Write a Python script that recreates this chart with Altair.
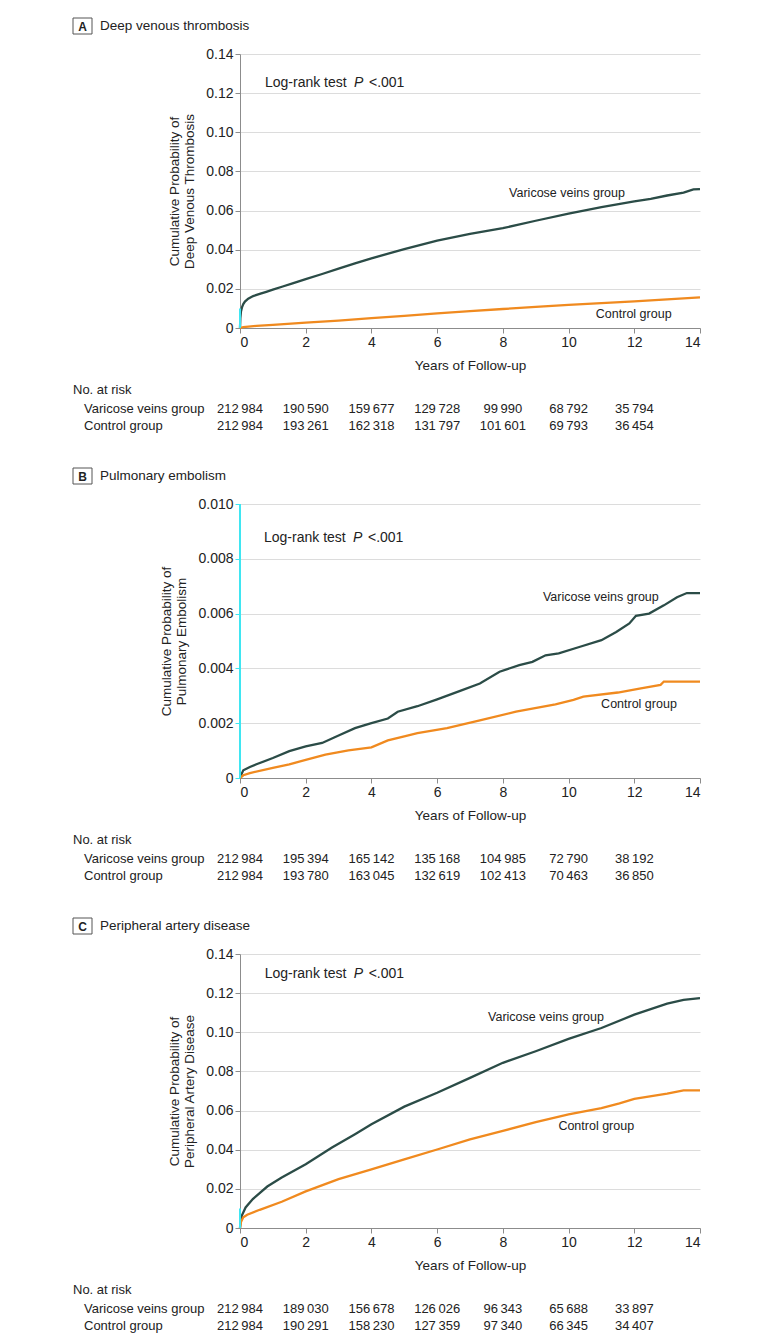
import altair as alt
import pandas as pd

FONT = "Liberation Sans"
TEXT = "#222222"
VAR_COLOR = "#2b4c47"
CTL_COLOR = "#f08a1f"
CYAN = "#3fe6f2"
GRID = "#dcdcdc"
AXIS = "#8c8c8c"

GROUPS = ["Varicose veins group", "Control group"]
RISK_YEARS = [0, 2, 4, 6, 8, 10, 12]
X_TICKS = [0, 2, 4, 6, 8, 10, 12, 14]

# ---------------- Panel A: Deep venous thrombosis ----------------
a_var_years = [0, 0.01, 0.03, 0.06, 0.1, 0.15, 0.25, 0.4, 0.6, 0.8, 1.0, 1.3, 1.6, 2.0, 2.5, 3.0,
               3.5, 4.0, 5.0, 6.0, 7.0, 8.0, 9.0, 10.0, 11.0, 12.0, 12.5, 13.0, 13.5, 13.8, 14.0]
a_var_prob = [0, 0.005, 0.0085, 0.0105, 0.0122, 0.0135, 0.015, 0.0163, 0.0174, 0.0185, 0.0196, 0.0212,
              0.0228, 0.025, 0.0276, 0.0303, 0.033, 0.0356, 0.0403, 0.0447, 0.0481, 0.0510, 0.0548,
              0.0585, 0.0618, 0.0647, 0.0660, 0.0677, 0.0692, 0.0708, 0.0710]
a_ctl_years = [0, 0.1, 0.5, 1, 2, 3, 4, 5, 6, 7, 8, 9, 10, 11, 12, 13, 14]
a_ctl_prob = [0, 0.0005, 0.0011, 0.0016, 0.0027, 0.0038, 0.0050, 0.0062, 0.0075, 0.0086, 0.0097,
              0.0108, 0.0118, 0.0127, 0.0136, 0.0146, 0.0156]
a_risk_var = [212984, 190590, 159677, 129728, 99990, 68792, 35794]
a_risk_ctl = [212984, 193261, 162318, 131797, 101601, 69793, 36454]

# ---------------- Panel B: Pulmonary embolism ----------------
b_var_years = [0, 0.05, 0.1, 0.3, 0.5, 1.0, 1.5, 2.0, 2.5, 3.0, 3.5, 4.0, 4.5, 4.8, 5.4, 6.0, 6.7,
               7.3, 7.9, 8.5, 8.9, 9.3, 9.7, 10.35, 11.0, 11.45, 11.85, 12.05, 12.45, 12.9, 13.3,
               13.6, 14.0]
b_var_prob = [0, 0.00015, 0.00028, 0.0004, 0.0005, 0.00073, 0.00098, 0.00115, 0.00128, 0.00155,
              0.00182, 0.002, 0.00217, 0.00242, 0.00262, 0.00287, 0.00318, 0.00345, 0.00388,
              0.00412, 0.00424, 0.00448, 0.00455, 0.00479, 0.00503, 0.00533, 0.00564, 0.00592,
              0.006, 0.0063, 0.0066, 0.00675, 0.00675]
b_ctl_years = [0, 0.1, 0.3, 1.0, 1.5, 2.0, 2.6, 3.3, 4.0, 4.5, 5.0, 5.4, 6.3, 7.3, 8.4, 9.6, 10.15,
               10.45, 11.5, 12.2, 12.8, 12.9, 14.0]
b_ctl_prob = [0, 0.0001, 0.00018, 0.00037, 0.0005, 0.00066, 0.00085, 0.00101, 0.00112, 0.00137,
              0.00152, 0.00164, 0.00182, 0.0021, 0.00242, 0.00269, 0.00285, 0.00297, 0.00312,
              0.00327, 0.0034, 0.00352, 0.00352]
b_risk_var = [212984, 195394, 165142, 135168, 104985, 72790, 38192]
b_risk_ctl = [212984, 193780, 163045, 132619, 102413, 70463, 36850]

# ---------------- Panel C: Peripheral artery disease ----------------
c_var_years = [0, 0.02, 0.06, 0.17, 0.39, 0.83, 1.27, 2.0, 2.8, 3.5, 4.0, 5.0, 6.0, 7.0, 8.0, 9.0,
               10.0, 11.0, 12.0, 13.0, 13.5, 14.0]
c_var_prob = [0, 0.004, 0.0065, 0.0105, 0.0148, 0.0212, 0.0258, 0.0326, 0.0411, 0.0479, 0.053,
              0.062, 0.0691, 0.0767, 0.0844, 0.0903, 0.0966, 0.1022, 0.109, 0.1146, 0.1166, 0.1175]
c_ctl_years = [0, 0.03, 0.1, 0.22, 0.6, 1.27, 2.0, 3.0, 4.0, 5.0, 6.0, 7.0, 8.0, 9.0, 10.0, 11.0,
               11.55, 12.0, 13.0, 13.5, 14.0]
c_ctl_prob = [0, 0.003, 0.0055, 0.0068, 0.0093, 0.0134, 0.0187, 0.025, 0.030, 0.0351, 0.0401,
              0.0453, 0.0496, 0.0541, 0.0581, 0.0613, 0.0637, 0.066, 0.0686, 0.0703, 0.0703]
c_risk_var = [212984, 189030, 156678, 126026, 96343, 65688, 33897]
c_risk_ctl = [212984, 190291, 158230, 127359, 97340, 66345, 34407]

W, H = 460, 274


def fmt_n(n):
    return f"{n:,}".replace(",", "\u2009")


def panel(letter, heading, ytitle, ymax, ystep, ydec, var_x, var_y, ctl_x, ctl_y,
          risk_var, risk_ctl, var_lab, ctl_lab, lr_pos, cyan_axis=False):
    curves = pd.DataFrame({
        "year": var_x + ctl_x,
        "prob": var_y + ctl_y,
        "group": [GROUPS[0]] * len(var_x) + [GROUPS[1]] * len(ctl_x),
    })
    xscale = alt.Scale(domain=[0, 14], nice=False, zero=False)
    yscale = alt.Scale(domain=[0, ymax], nice=False)
    nt = int(round(ymax / ystep))
    yticks = [round(i * ystep, 6) for i in range(nt + 1)]
    tick_col = CYAN if cyan_axis else AXIS
    xaxis = alt.Axis(values=X_TICKS, title="Years of Follow-up", grid=False, format="d",
                     titlePadding=9, labelPadding=2)
    yaxis = alt.Axis(values=yticks, title=ytitle, grid=True, titlePadding=9, labelPadding=2,
                     titleLineHeight=15, tickColor=tick_col,
                     labelExpr=f"datum.value == 0 ? '0' : format(datum.value, '.{ydec}f')")

    lines = alt.Chart(curves).mark_line(strokeWidth=2.3).encode(
        x=alt.X("year:Q", scale=xscale, axis=xaxis),
        y=alt.Y("prob:Q", scale=yscale, axis=yaxis),
        color=alt.Color("group:N", scale=alt.Scale(domain=GROUPS, range=[VAR_COLOR, CTL_COLOR]),
                        legend=None),
        detail="group:N",
    )

    cyan = alt.Chart(pd.DataFrame({"year": [0], "lo": [0.0], "hi": [0.01]})).mark_rule(
        color=CYAN, strokeWidth=2).encode(
        x=alt.X("year:Q", scale=xscale, axis=None),
        y=alt.Y("lo:Q", scale=yscale, axis=None),
        y2="hi:Q",
    )

    labels = pd.DataFrame({
        "year": [var_lab[0], ctl_lab[0]],
        "prob": [var_lab[1], ctl_lab[1]],
        "txt": GROUPS,
    })
    lab_layer = alt.Chart(labels).mark_text(align="left", baseline="middle", font=FONT,
                                            fontSize=12.5, color=TEXT).encode(
        x=alt.X("year:Q", scale=xscale, axis=None),
        y=alt.Y("prob:Q", scale=yscale, axis=None),
        text="txt:N",
    )

    lr_df = pd.DataFrame({"year": [lr_pos[0]], "prob": [lr_pos[1]]})
    lr_enc = dict(x=alt.X("year:Q", scale=xscale, axis=None),
                  y=alt.Y("prob:Q", scale=yscale, axis=None))
    lr1 = alt.Chart(lr_df).mark_text(align="left", baseline="middle", font=FONT, fontSize=14,
                                     color=TEXT, text="Log-rank test").encode(**lr_enc)
    lr2 = alt.Chart(lr_df).mark_text(align="left", baseline="middle", font=FONT, fontSize=14,
                                     color=TEXT, text="P", fontStyle="italic", dx=89).encode(**lr_enc)
    lr3 = alt.Chart(lr_df).mark_text(align="left", baseline="middle", font=FONT, fontSize=14,
                                     color=TEXT, text="<.001", dx=104).encode(**lr_enc)

    one = pd.DataFrame({"k": [0]})
    box = alt.Chart(one).mark_rect(fill="white", stroke="#555555", strokeWidth=1).encode(
        x=alt.value(-167), x2=alt.value(-148), y=alt.value(-36), y2=alt.value(-20))
    box_txt = alt.Chart(one).mark_text(font=FONT, fontSize=12, fontWeight="bold", color=TEXT,
                                       align="center", baseline="middle", text=letter).encode(
        x=alt.value(-157.5), y=alt.value(-27.5))
    head_txt = alt.Chart(one).mark_text(font=FONT, fontSize=13.5, color=TEXT, align="left",
                                        baseline="middle", text=heading).encode(
        x=alt.value(-140), y=alt.value(-28))

    risk_head = alt.Chart(one).mark_text(font=FONT, fontSize=13, color=TEXT, align="left",
                                         baseline="middle", text="No. at risk").encode(
        x=alt.value(-167), y=alt.value(H + 62))
    row_var = alt.Chart(one).mark_text(font=FONT, fontSize=13, color=TEXT, align="left",
                                       baseline="middle", text=GROUPS[0]).encode(
        x=alt.value(-156), y=alt.value(H + 81))
    row_ctl = alt.Chart(one).mark_text(font=FONT, fontSize=13, color=TEXT, align="left",
                                       baseline="middle", text=GROUPS[1]).encode(
        x=alt.value(-156), y=alt.value(H + 98))

    rv = pd.DataFrame({"year": RISK_YEARS, "n": [fmt_n(v) for v in risk_var]})
    rc = pd.DataFrame({"year": RISK_YEARS, "n": [fmt_n(v) for v in risk_ctl]})
    nums_var = alt.Chart(rv).mark_text(font=FONT, fontSize=13, color=TEXT, align="center",
                                       baseline="middle").encode(
        x=alt.X("year:Q", scale=xscale, axis=None), y=alt.value(H + 81), text="n:N")
    nums_ctl = alt.Chart(rc).mark_text(font=FONT, fontSize=13, color=TEXT, align="center",
                                       baseline="middle").encode(
        x=alt.X("year:Q", scale=xscale, axis=None), y=alt.value(H + 98), text="n:N")

    layers = [lines, cyan, lab_layer, lr1, lr2, lr3, box, box_txt, head_txt,
              risk_head, row_var, row_ctl, nums_var, nums_ctl]
    return alt.layer(*layers).resolve_axis(x="independent", y="independent").properties(
        width=W, height=H)


pA = panel("A", "Deep venous thrombosis", ["Cumulative Probability of", "Deep Venous Thrombosis"],
           0.14, 0.02, 2, a_var_years, a_var_prob, a_ctl_years, a_ctl_prob, a_risk_var, a_risk_ctl,
           (8.19, 0.069), (10.83, 0.0073), (0.76, 0.1252))
pB = panel("B", "Pulmonary embolism", ["Cumulative Probability of", "Pulmonary Embolism"],
           0.010, 0.002, 3, b_var_years, b_var_prob, b_ctl_years, b_ctl_prob, b_risk_var, b_risk_ctl,
           (9.22, 0.0066), (10.99, 0.0027), (0.73, 0.00876), cyan_axis=True)
pC = panel("C", "Peripheral artery disease", ["Cumulative Probability of", "Peripheral Artery Disease"],
           0.14, 0.02, 2, c_var_years, c_var_prob, c_ctl_years, c_ctl_prob, c_risk_var, c_risk_ctl,
           (7.55, 0.1076), (9.69, 0.0521), (0.75, 0.1296))

chart = alt.vconcat(pA, pB, pC, spacing=176, bounds="flush").resolve_scale(
    x="independent", y="independent", color="shared"
).properties(
    padding={"left": 64, "top": 9, "right": 5, "bottom": 5},
    background="white",
).configure_axis(
    labelFont=FONT, titleFont=FONT, labelFontSize=14, titleFontSize=13.5,
    labelColor=TEXT, titleColor=TEXT, domainColor=AXIS, tickColor=AXIS, gridColor=GRID,
    titleFontWeight="normal", tickSize=5, domainWidth=1, tickWidth=1,
).configure_view(stroke=None)

chart.save("out.html", embed_options={"renderer": "svg", "actions": False})
